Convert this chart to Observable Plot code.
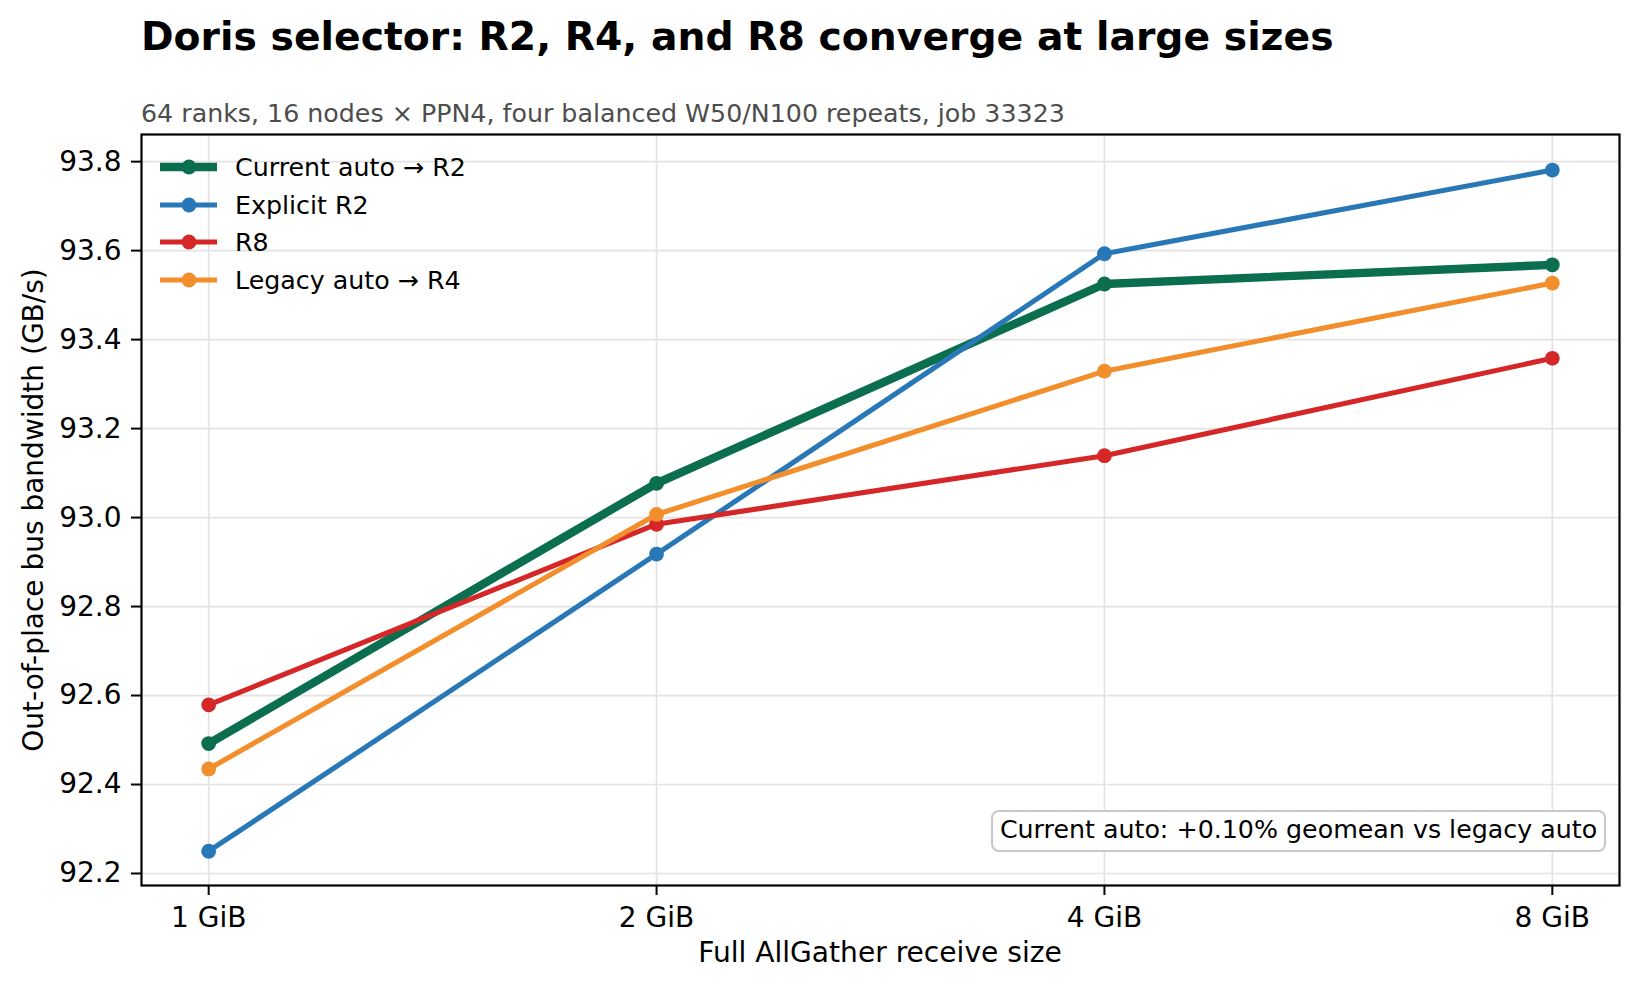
<!DOCTYPE html>
<html>
<head>
<meta charset="utf-8">
<script src="https://cdn.jsdelivr.net/npm/d3@7"></script>
<script src="https://cdn.jsdelivr.net/npm/@observablehq/plot@0.6"></script>
<style>
  html, body { margin: 0; padding: 0; background: #fff; }
  body { font-family: "DejaVu Sans", sans-serif; }
  #wrap { position: relative; width: 1640px; height: 991px; overflow: hidden; background: #fff; }
  .abs { position: absolute; white-space: nowrap; }
  #title { left: 141px; top: 16.5px; font-size: 39.3px; line-height: 39.3px; font-weight: bold; color: #000; }
  #subtitle { left: 141px; top: 100.6px; font-size: 25.3px; line-height: 25.3px; color: #4d4d4d; }
  #plot { position: absolute; left: 0; top: 128px; }
  #xlabel { left: 0; width: 1760px; top: 939px; font-size: 28.1px; line-height: 28.1px; text-align: center; }
  #ylabel { font-size: 28px; line-height: 28px; width: 700px; text-align: center;
            left: -315.6px; top: 495.5px; transform: rotate(-90deg); transform-origin: 350px 14px; }
  .legtext { font-size: 25.3px; line-height: 25.3px; color: #000; }
  #note { left: 991px; top: 810px; width: 615px; height: 42px; box-sizing: border-box;
          border: 2px solid #c8c8c8; border-radius: 8px; background: #fff;
          font-size: 25.3px; line-height: 25.3px; text-align: center; padding-top: 5px; }
</style>
</head>
<body>
<div id="wrap">
  <div id="title" class="abs"></div>
  <div id="subtitle" class="abs"></div>
  <div id="plot"></div>
  <div id="xlabel" class="abs"></div>
  <div id="ylabel" class="abs"></div>
  <div id="legend"></div>
  <div id="note" class="abs"></div>
</div>
<script>
// ---- data ----
const sizes = [1, 2, 4, 8];
const sizeLabels = ["1 GiB", "2 GiB", "4 GiB", "8 GiB"];
const currentAuto = [92.492, 93.077, 93.525, 93.568];
const explicitR2 = [92.250, 92.918, 93.593, 93.781];
const r8 = [92.579, 92.985, 93.139, 93.358];
const legacyAuto = [92.435, 93.007, 93.329, 93.527];
const yTicks = [92.2, 92.4, 92.6, 92.8, 93.0, 93.2, 93.4, 93.6, 93.8];

const seriesNames = ["Current auto \u2192 R2", "Explicit R2", "R8", "Legacy auto \u2192 R4"];
const seriesValues = [currentAuto, explicitR2, r8, legacyAuto];
const seriesColors = ["#0b6e4f", "#2878b8", "#d62728", "#f28e2b"];
const seriesWidths = [8.4, 5.1, 5.1, 5.1];

const titleText = "Doris selector: R2, R4, and R8 converge at large sizes";
const subtitleText = "64 ranks, 16 nodes \u00d7 PPN4, four balanced W50/N100 repeats, job 33323";
const xLabelText = "Full AllGather receive size";
const yLabelText = "Out-of-place bus bandwidth (GB/s)";
const noteText = "Current auto: +0.10% geomean vs legacy auto";

// ---- build ----
document.getElementById("title").textContent = titleText;
document.getElementById("subtitle").textContent = subtitleText;
document.getElementById("xlabel").textContent = xLabelText;
document.getElementById("ylabel").textContent = yLabelText;
document.getElementById("note").textContent = noteText;

const tables = seriesValues.map((vals, s) => sizes.map((size, i) => ({size, value: vals[i], series: seriesNames[s]})));

const seriesMarks = [];
tables.forEach((t, s) => {
  seriesMarks.push(Plot.line(t, {x: "size", y: "value", stroke: seriesColors[s], strokeWidth: seriesWidths[s], strokeLinejoin: "round", strokeLinecap: "butt"}));
  seriesMarks.push(Plot.dot(t, {x: "size", y: "value", r: 7.4, fill: seriesColors[s], stroke: "none"}));
});

const chart = Plot.plot({
  width: 1640,
  height: 863,
  marginTop: 6,
  marginBottom: 106,
  marginLeft: 141,
  marginRight: 21,
  style: {fontFamily: "DejaVu Sans, sans-serif", fontSize: "28px", color: "#000", background: "#fff", overflow: "visible"},
  x: {type: "log", base: 2, domain: [Math.pow(2, -0.15), 8 * Math.pow(2, 0.15)]},
  y: {domain: [92.173, 93.861]},
  marks: [
    Plot.gridX(sizes, {stroke: "#e3e3e3", strokeOpacity: 1, strokeWidth: 1.7}),
    Plot.gridY(yTicks, {stroke: "#e3e3e3", strokeOpacity: 1, strokeWidth: 1.7}),
    ...seriesMarks,
    Plot.frame({stroke: "#000", strokeWidth: 2.2}),
    Plot.axisX(sizes, {tickFormat: d => sizeLabels[sizes.indexOf(d)], tickSize: 10, tickPadding: 12, strokeWidth: 2, label: null, fontSize: 28}),
    Plot.axisY(yTicks, {tickFormat: d3.format(".1f"), tickSize: 10, tickPadding: 10, strokeWidth: 2, label: null, fontSize: 28})
  ]
});
document.getElementById("plot").appendChild(chart);

// ---- legend (inside plot area, upper left) ----
const legend = document.getElementById("legend");
const rowCenters0 = 167.3, rowStep = 37.4;
seriesNames.forEach((name, s) => {
  const cy = rowCenters0 + s * rowStep;
  const ns = "http://www.w3.org/2000/svg";
  const svg = document.createElementNS(ns, "svg");
  svg.setAttribute("width", 64);
  svg.setAttribute("height", 24);
  svg.style.position = "absolute";
  svg.style.left = "157px";
  svg.style.top = (cy - 12) + "px";
  const ln = document.createElementNS(ns, "line");
  ln.setAttribute("x1", 3); ln.setAttribute("x2", 60);
  ln.setAttribute("y1", 12); ln.setAttribute("y2", 12);
  ln.setAttribute("stroke", seriesColors[s]);
  ln.setAttribute("stroke-width", seriesWidths[s]);
  svg.appendChild(ln);
  const c = document.createElementNS(ns, "circle");
  c.setAttribute("cx", 32); c.setAttribute("cy", 12); c.setAttribute("r", 7.4);
  c.setAttribute("fill", seriesColors[s]);
  svg.appendChild(c);
  legend.appendChild(svg);
  const t = document.createElement("div");
  t.className = "abs legtext";
  t.style.left = "235px";
  t.style.top = (cy - 12) + "px";
  t.textContent = name;
  legend.appendChild(t);
});
</script>
</body>
</html>
